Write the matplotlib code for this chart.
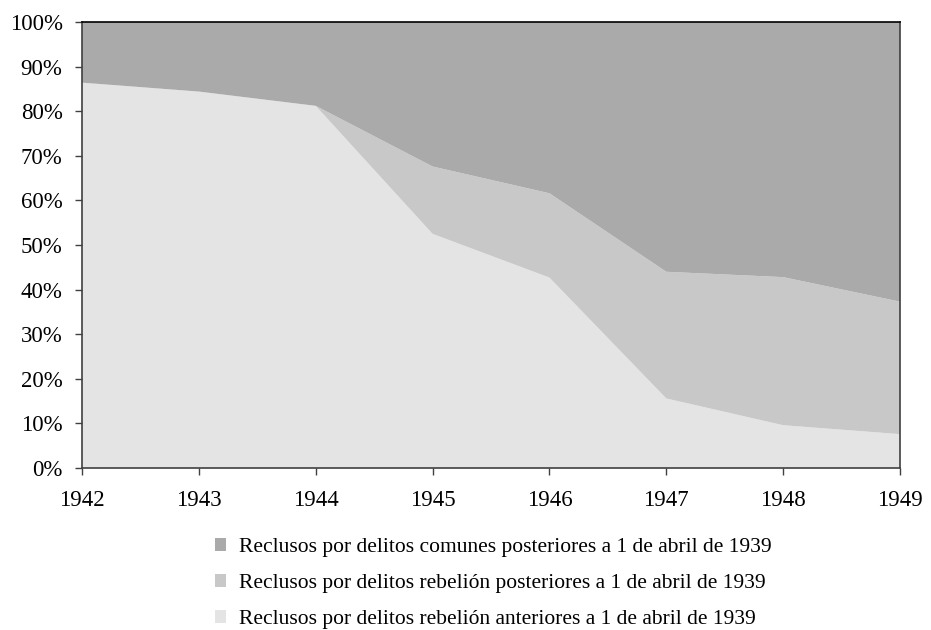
import matplotlib.pyplot as plt
import numpy as np
from matplotlib.patches import Patch

# datos (porcentaje sobre el total de reclusos)
anios = [1942, 1943, 1944, 1945, 1946, 1947, 1948, 1949]
rebelion_anteriores = [86.4, 84.4, 81.2, 52.5, 42.7, 15.6, 9.6, 7.6]
rebelion_posteriores = [0.0, 0.0, 0.0, 15.1, 18.9, 28.4, 33.2, 29.7]
comunes_posteriores = [13.6, 15.6, 18.8, 32.4, 38.4, 56.0, 57.2, 62.7]

etiquetas = [
    "Reclusos por delitos rebelión anteriores a 1 de abril de 1939",
    "Reclusos por delitos rebelión posteriores a 1 de abril de 1939",
    "Reclusos por delitos comunes posteriores a 1 de abril de 1939",
]
colores = ["#e4e4e4", "#c8c8c8", "#aaaaaa"]

plt.rcParams['font.family'] = ['Liberation Serif', 'DejaVu Serif']

fig = plt.figure(figsize=(9.31, 6.3), dpi=100)
ax = fig.add_axes([0.0881, 0.2571, 0.8786, 0.7080])

ax.stackplot(anios, rebelion_anteriores, rebelion_posteriores, comunes_posteriores,
             colors=colores, linewidth=0)

ax.set_xlim(1942, 1949)
ax.set_ylim(0, 100)
ax.set_xticks(anios)
ax.set_yticks(np.arange(0, 101, 10))
ax.set_yticklabels([f"{v}%" for v in range(0, 101, 10)])
ax.tick_params(axis='both', labelsize=16.5, direction='out', length=5, width=1, colors='#404040', labelcolor='black')
ax.tick_params(axis='x', pad=11)
ax.tick_params(axis='y', pad=9)

for s in ax.spines.values():
    s.set_color('#404040')
    s.set_linewidth(1.2)
ax.spines['top'].set_color('black')

# leyenda debajo, en orden inverso al apilado
handles = [Patch(facecolor=c, edgecolor='none') for c in colores]
fig.legend(handles[::-1], etiquetas[::-1], loc='upper center', bbox_to_anchor=(0.5295, 0.177),
           frameon=False, fontsize=15.5, handlelength=0.52, handleheight=0.52,
           handletextpad=0.6, labelspacing=0.8)

fig.savefig('out.png', dpi=100)
